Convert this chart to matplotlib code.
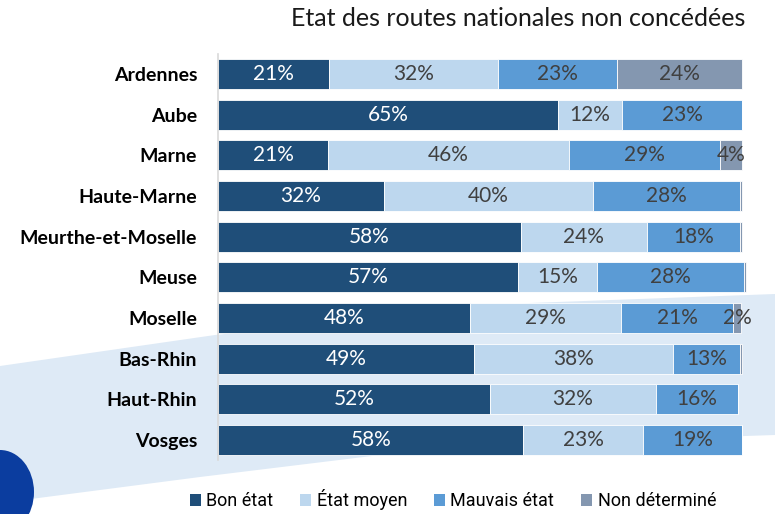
import matplotlib
matplotlib.use("Agg")
import matplotlib.pyplot as plt
from matplotlib.patches import Polygon, Ellipse, Patch
from matplotlib.transforms import Affine2D
import numpy as np

# ---- data ----
departements = ["Ardennes", "Aube", "Marne", "Haute-Marne", "Meurthe-et-Moselle",
                "Meuse", "Moselle", "Bas-Rhin", "Haut-Rhin", "Vosges"]
bon_etat      = [21.2, 64.9, 21.0, 31.6, 57.8, 57.3, 48.0, 48.9, 51.9, 58.3]
etat_moyen    = [32.2, 12.2, 46.0, 39.9, 24.0, 15.1, 29.0, 37.9, 31.7, 22.8]
mauvais_etat  = [22.7, 22.9, 28.8, 28.2, 17.8, 28.0, 21.3, 12.8, 15.6, 18.9]
non_determine = [23.9, 0.0, 4.2, 0.3, 0.4, 0.3, 1.6, 0.4, 0.0, 0.0]
series_names = ["Bon état", "État moyen", "Mauvais état", "Non déterminé"]
title = "Etat des routes nationales non concédées"

colors = ["#1F4E79", "#BDD7EE", "#5B9BD5", "#8497B0"]
label_colors = ["white", "#404040", "#404040", "#404040"]

W, H = 775, 514
fig = plt.figure(figsize=(W / 100, H / 100), dpi=100)
fig.patch.set_facecolor("white")

# pixel -> figure coords transform (y downward)
px = Affine2D().scale(1 / W, -1 / H).translate(0, 1) + fig.transFigure

# decorative background
bg_poly = Polygon([(0, 366), (215, 335), (530, 303), (775, 294), (775, 435),
                   (745, 436), (380, 455), (200, 477), (0, 503)],
                  closed=True, facecolor="#DEEAF6", edgecolor="none",
                  transform=px, zorder=-2)
fig.patches.append(bg_poly)
blob = Ellipse((0, 492), 68, 84, facecolor="#0B3D9F", edgecolor="none",
               transform=px, zorder=-1)
fig.patches.append(blob)

left_px, right_px = 218, 742
top_px, bot_px = 53.7, 460.3
ax = fig.add_axes([left_px / W, 1 - bot_px / H, (right_px - left_px) / W,
                   (bot_px - top_px) / H])
ax.set_facecolor("none")

series = [bon_etat, etat_moyen, mauvais_etat, non_determine]
y = np.arange(len(departements))
left = np.zeros(len(departements))
for vals, c, lc, name in zip(series, colors, label_colors, series_names):
    vals = np.array(vals)
    bars = ax.barh(y, vals, left=left, height=0.74, color=c, edgecolor="white",
                   linewidth=0.6, label=name)
    for b in bars:
        b.set_clip_on(False)
    for yi, (l, v) in enumerate(zip(left, vals)):
        if v >= 1:
            ax.text(l + v / 2, yi, f"{round(v)}%", ha="center", va="center",
                    color=lc, fontsize=15, family="Lato")
    left += vals

ax.set_xlim(0, 100)
ax.set_ylim(len(departements) - 0.5, -0.5)
ax.set_yticks(y)
ax.set_yticklabels(departements, fontsize=14, fontweight="bold", family="Lato")
ax.tick_params(axis="y", length=0, pad=15)
ax.set_xticks([])
for s in ["top", "right", "bottom"]:
    ax.spines[s].set_visible(False)
ax.spines["left"].set_color("#D9D9D9")
ax.spines["left"].set_linewidth(1.2)

fig.text(745 / W, 1 - 18 / H, title, ha="right", va="center",
         fontsize=18, family="Lato", color="#1a1a1a")

handles = [Patch(facecolor=c, edgecolor="none") for c in colors]
fig.legend(handles, series_names, loc="center", bbox_to_anchor=(453 / W, 1 - 500 / H),
           ncol=4, frameon=False, prop={"family": "Roboto", "size": 13},
           handlelength=0.6, handleheight=0.6, handletextpad=0.3, columnspacing=1.5)

fig.savefig("out.png", dpi=100)
